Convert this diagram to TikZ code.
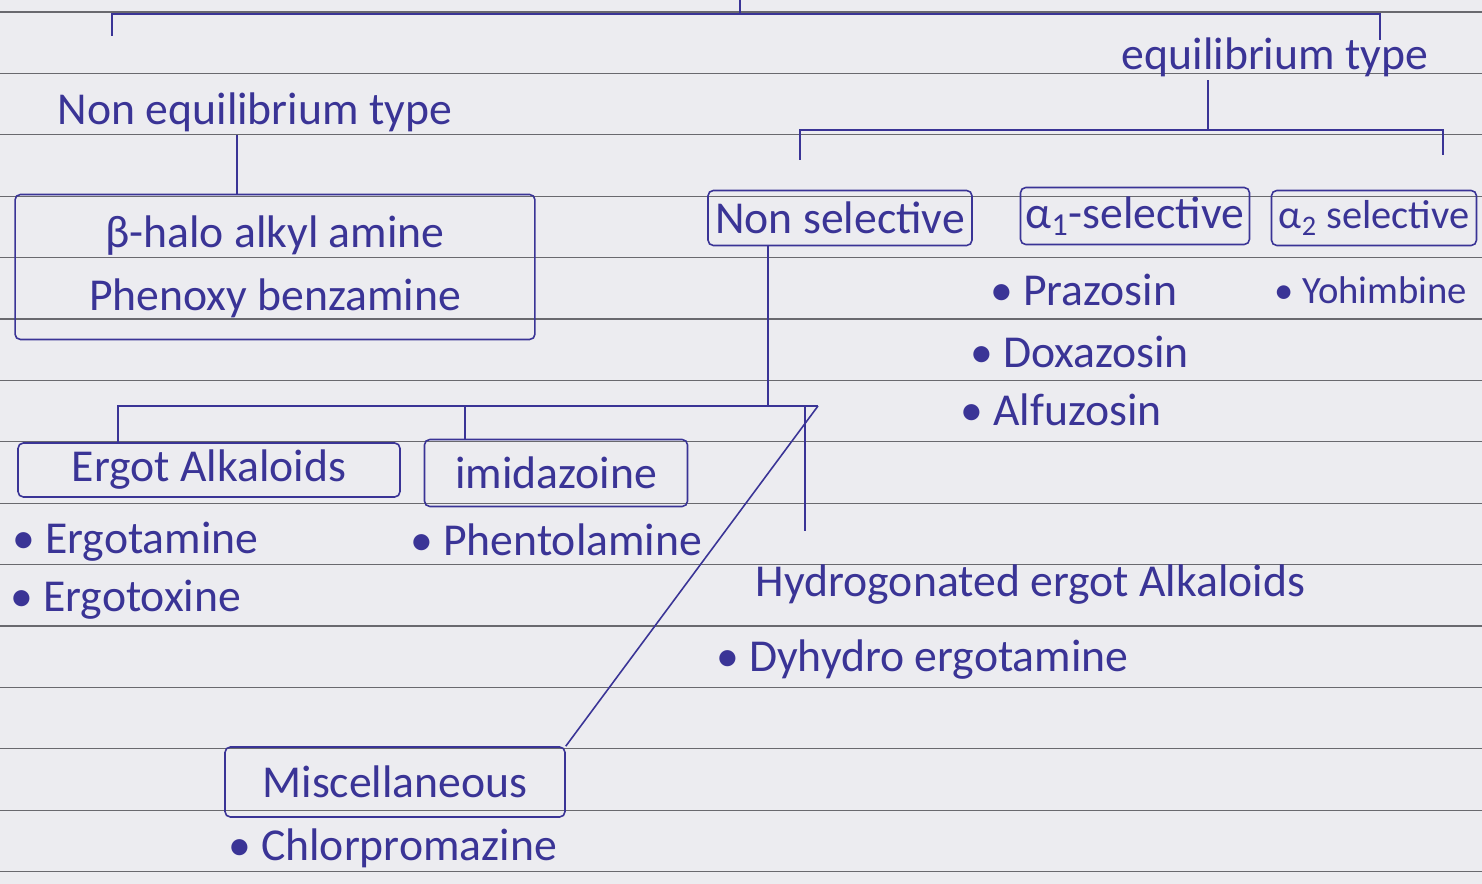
\documentclass[tikz,border=0pt]{standalone}
\usepackage{fontspec}
\setmainfont{Carlito}
\usetikzlibrary{positioning, calc}
\definecolor{inkblue}{RGB}{58, 52, 150}
\definecolor{paper}{RGB}{236, 236, 240}
\definecolor{rulegray}{RGB}{105, 105, 110}

\begin{document}
\begin{tikzpicture}[
    x=0.02cm, y=-0.02cm,
    font=\fontsize{26}{36}\selectfont,
    % Styles
    inkbox/.style={draw=inkblue, text=inkblue, rounded corners=3pt, align=center, line width=0.9pt, inner sep=3pt},
    inktext/.style={text=inkblue, align=center, inner sep=2pt},
    druglist/.style={text=inkblue, anchor=west, inner sep=1pt},
    link/.style={draw=inkblue, line width=0.9pt}
]

    % Paper and ruled lines
    \fill[paper] (0,0) rectangle (1482,884);
    \useasboundingbox (0,0) rectangle (1482,884);
    \foreach \k in {0,...,14}
        \draw[rulegray, line width=0.6pt] (0,12+61.4*\k) -- (1482,12+61.4*\k);

    % Top level
    \node (neq) [inktext] at (255,112) {Non equilibrium type};
    \node (eq) [inktext] at (1275,57) {equilibrium type};

    % Non equilibrium branch
    \node (halo) [inkbox, minimum width=10.4cm, minimum height=2.9cm] at (275,267) {β-halo alkyl amine\\Phenoxy benzamine};

    % Equilibrium branch
    \node (nonsel) [inkbox, minimum width=5.28cm, minimum height=1.1cm] at (840,218) {Non selective};
    \node (alpha1) [inkbox, minimum width=4.4cm, minimum height=1.14cm] at (1135,216) {α\textsubscript{1}-selective};
    \node (alpha2) [inkbox, minimum width=4.1cm, minimum height=1.1cm, font=\fontsize{23}{30}\selectfont] at (1374,218) {α\textsubscript{2} selective};

    \node (prazosin) [druglist] at (988,290) {\textbullet\ Prazosin};
    \node (doxazosin) [druglist] at (968,352) {\textbullet\ Doxazosin};
    \node (alfuzosin) [druglist] at (958,410) {\textbullet\ Alfuzosin};
    \node (yohimbine) [druglist, font=\fontsize{22}{30}\selectfont] at (1272,290) {\textbullet\ Yohimbine};

    % Non selective groups
    \node (ergot) [inkbox, minimum width=7.64cm, minimum height=1.08cm] at (209,470) {Ergot Alkaloids};
    \node (imid) [inkbox, minimum width=5.26cm, minimum height=1.34cm] at (556,473) {imidazoine};
    \node (ergotamine) [druglist] at (10,542) {\textbullet\ Ergotamine};
    \node (ergotoxine) [druglist] at (8,600) {\textbullet\ Ergotoxine};
    \node (phentol) [druglist] at (408,540) {\textbullet\ Phentolamine};
    \node (hydro) [inktext, anchor=west] at (752,585) {Hydrogonated ergot Alkaloids};
    \node (dhe) [druglist] at (714,660) {\textbullet\ Dyhydro ergotamine};
    \node (misc) [inkbox, minimum width=6.8cm, minimum height=1.4cm] at (395,782) {Miscellaneous};
    \node (chlor) [druglist] at (226,848) {\textbullet\ Chlorpromazine};

    % Top bracket
    \coordinate (root) at (740,-10);
    \coordinate (topjoin) at (740,14);
    \coordinate (neqtick) at (112,36);
    \coordinate (eqtick) at (1380,40);
    \draw[link] (root) -- (topjoin);
    \draw[link] (neqtick) |- (topjoin) -| (eqtick);

    % Non equilibrium to box
    \coordinate (neqdrop) at (237,0);
    \draw[link] (neq.south -| neqdrop) -- (halo.north -| neqdrop);

    % Equilibrium bracket
    \coordinate (eqjoin) at (1208,130);
    \coordinate (nstick) at (800,160);
    \coordinate (a2tick) at (1443,155);
    \draw[link] (eq.south -| eqjoin) -- (eqjoin);
    \draw[link] (nstick) |- (eqjoin) -| (a2tick);

    % Non selective bracket
    \coordinate (nsjoin) at (768,406);
    \coordinate (bracketend) at (818,406);
    \coordinate (ergotx) at (118,0);
    \coordinate (imidx) at (465,0);
    \coordinate (hydrox) at (805,0);
    \draw[link] (nonsel.south -| nsjoin) -- (nsjoin);
    \draw[link] (ergot.north -| ergotx) |- (bracketend);
    \draw[link] (imid.north -| imidx) -- (imidx |- bracketend);
    \draw[link, shorten >=0.6cm] (hydrox |- bracketend) -- (hydrox |- hydro.north);
    \draw[link] (bracketend) -- (misc.north east);

\end{tikzpicture}
\end{document}
